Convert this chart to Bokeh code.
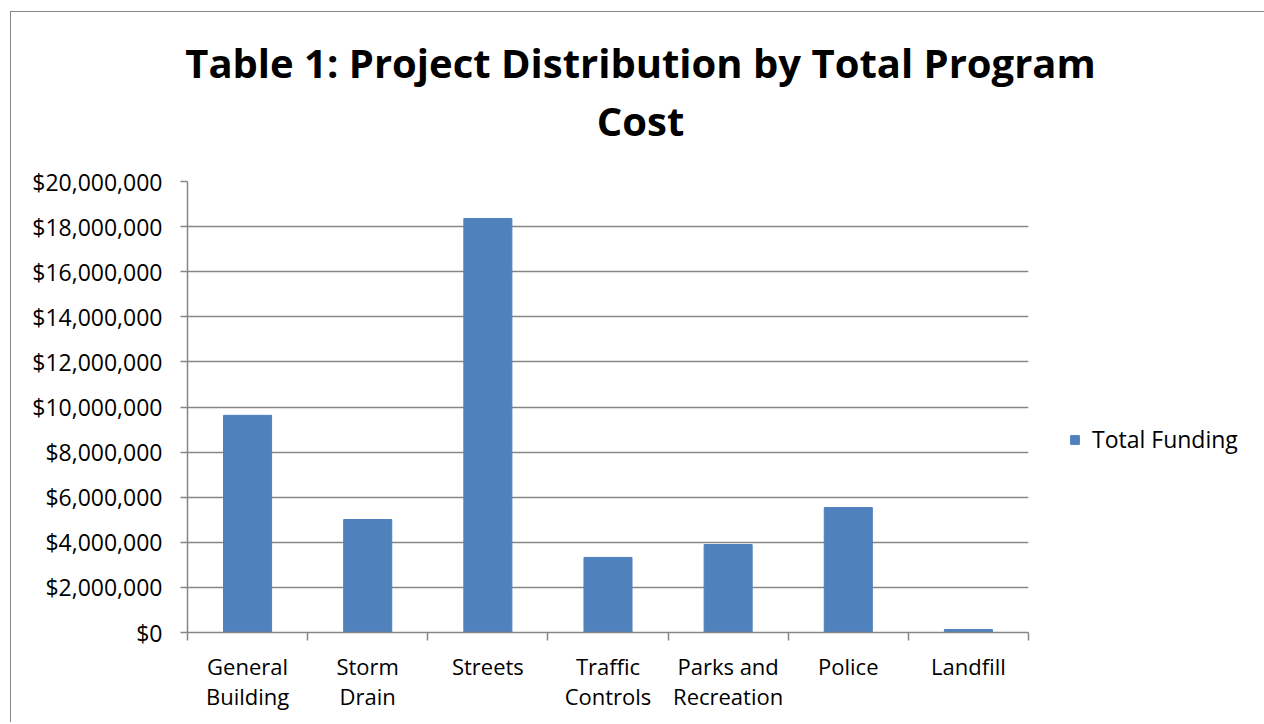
from bokeh.plotting import figure
from bokeh.models import (ColumnDataSource, FixedTicker, NumeralTickFormatter, Range1d,
                          Label, Legend, LegendItem)
from bokeh.embed import file_html
from bokeh.resources import INLINE

categories = ["General Building", "Storm Drain", "Streets", "Traffic Controls",
              "Parks and Recreation", "Police", "Landfill"]
tick_labels = ["General\nBuilding", "Storm\nDrain", "Streets", "Traffic\nControls",
               "Parks and\nRecreation", "Police", "Landfill"]
funding = [9630000, 5010000, 18360000, 3330000, 3900000, 5540000, 130000]
y_ticks = [0, 2000000, 4000000, 6000000, 8000000, 10000000, 12000000,
           14000000, 16000000, 18000000, 20000000]
title_text = "Table 1: Project Distribution by Total Program\nCost"
series_name = "Total Funding"

FONT = "Open Sans"
GRID = "#868686"
BAR = "#4F81BD"

xs = [i + 0.5 for i in range(len(categories))]
src = ColumnDataSource(dict(x=xs, top=funding, cat=categories))

p = figure(frame_width=841, frame_height=451, output_backend="svg", toolbar_location=None,
           x_range=Range1d(0, len(categories)), y_range=Range1d(0, 20000000),
           min_border_left=176, min_border_top=169, min_border_right=235,
           min_border_bottom=90,
           styles={"margin-left": "10px", "margin-top": "11px",
                   "border-left": "1px solid #868686", "border-top": "1px solid #868686"})
p.outline_line_color = None
p.background_fill_color = "white"
p.border_fill_color = "white"

r = p.vbar(x="x", top="top", width=0.4, bottom=0, source=src, color=BAR)

# y axis
p.yaxis.ticker = FixedTicker(ticks=y_ticks)
p.yaxis.formatter = NumeralTickFormatter(format="$0,0")
p.yaxis.axis_line_color = GRID
p.yaxis.major_tick_line_color = GRID
p.yaxis.major_tick_out = 7
p.yaxis.major_tick_in = 0
p.yaxis.minor_tick_line_color = None
p.yaxis.major_label_text_font = FONT
p.yaxis.major_label_text_font_size = "23px"
p.yaxis.major_label_text_color = "black"
p.yaxis.major_label_standoff = 18
p.ygrid.grid_line_color = GRID
p.ygrid.grid_line_width = 1.5
p.yaxis.axis_line_width = 1.5
p.yaxis.major_tick_line_width = 1.5

# x axis
p.xaxis.ticker = FixedTicker(ticks=xs, minor_ticks=list(range(len(categories) + 1)))
p.xaxis.major_label_overrides = {x: lab for x, lab in zip(xs, tick_labels)}
p.xaxis.axis_line_color = GRID
p.xaxis.axis_line_width = 1.5
p.xaxis.major_tick_line_color = None
p.xaxis.major_tick_out = 0
p.xaxis.major_tick_in = 0
p.xaxis.minor_tick_line_color = GRID
p.xaxis.minor_tick_line_width = 1.5
p.xaxis.minor_tick_out = 8
p.xaxis.minor_tick_in = 0
p.xaxis.major_label_text_font = FONT
p.xaxis.major_label_text_font_size = "22px"
p.xaxis.major_label_text_color = "black"
p.xaxis.major_label_text_line_height = 1.0
p.xaxis.major_label_standoff = 10
p.xgrid.grid_line_color = None

# title (label placed in the panel above the frame)
p.add_layout(Label(x=453, y=147, x_units="screen", y_units="screen", text=title_text,
                   text_font=FONT, text_font_style="bold", text_font_size="40px",
                   text_align="center", text_baseline="top", text_line_height=1.07,
                   text_color="black"), "above")

legend = Legend(items=[LegendItem(label=series_name, renderers=[r])],
                location=(41, 177), orientation="vertical",
                border_line_color=None, background_fill_alpha=0,
                padding=0, margin=0, glyph_width=11, glyph_height=11,
                label_height=11,
                label_standoff=12, label_text_font=FONT, label_text_font_size="23px",
                label_text_color="black")
p.add_layout(legend, "right")

open("out.html", "w").write(file_html(p, INLINE))
